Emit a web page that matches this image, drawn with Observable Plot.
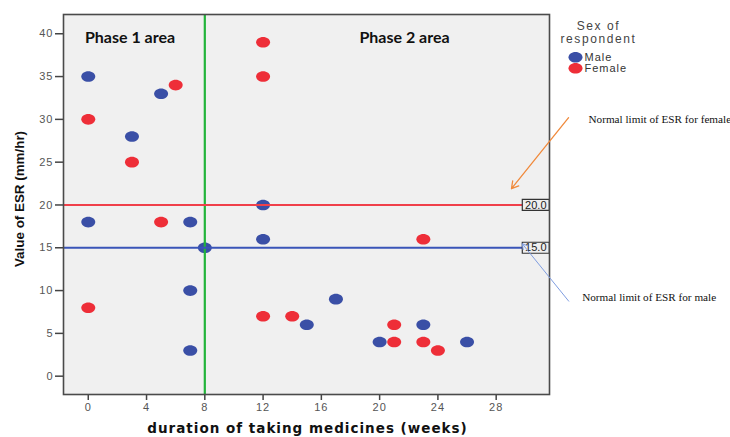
<!DOCTYPE html>
<html>
<head>
<meta charset="utf-8">
<script src="https://cdn.jsdelivr.net/npm/d3@7"></script>
<script src="https://cdn.jsdelivr.net/npm/@observablehq/plot@0.6"></script>
<style>
  body { margin: 0; background: white; }
</style>
</head>
<body>
<div id="chart"></div>
<script>
// ---- data ----
const maleWeeks   = [0, 0, 3, 5, 7, 7, 7, 8, 12, 12, 15, 17, 20, 23, 26];
const maleESR     = [35, 18, 28, 33, 18, 10, 3, 15, 20, 16, 6, 9, 4, 6, 4];
const femaleWeeks = [0, 0, 3, 5, 6, 12, 12, 12, 14, 21, 21, 23, 23, 24];
const femaleESR   = [30, 8, 25, 18, 34, 39, 35, 7, 7, 6, 4, 16, 4, 3];
const xTicks = [0, 4, 8, 12, 16, 20, 24, 28];
const yTicks = [0, 5, 10, 15, 20, 25, 30, 35, 40];
const phaseBoundary = 8;       // weeks
const femaleLimit = 20;        // mm/hr
const maleLimit = 15;          // mm/hr
const sexes = ["Male", "Female"];

// ---- build table ----
const points = [
  ...maleWeeks.map((w, i) => ({weeks: w, esr: maleESR[i], sex: "Male"})),
  ...femaleWeeks.map((w, i) => ({weeks: w, esr: femaleESR[i], sex: "Female"}))
];

const colors = {Male: "#3a4fa6", Female: "#ee2e38"};

const ellipse = {
  draw(ctx) {
    const rx = 7, ry = 5.3, k = 0.5523;
    ctx.moveTo(rx, 0);
    ctx.bezierCurveTo(rx, ry * k, rx * k, ry, 0, ry);
    ctx.bezierCurveTo(-rx * k, ry, -rx, ry * k, -rx, 0);
    ctx.bezierCurveTo(-rx, -ry * k, -rx * k, -ry, 0, -ry);
    ctx.bezierCurveTo(rx * k, -ry, rx, -ry * k, rx, 0);
    ctx.closePath();
  }
};
const box = {
  draw(ctx) {
    const w = 13.5, h = 5.5;
    ctx.rect(-w, -h, 2 * w, 2 * h);
  }
};

const xDomain = [-1.7, 31.66];
const yDomain = [-2.14, 42.25];
const sans = "Liberation Sans, Arial, sans-serif";
const serif = "Liberation Serif, Times New Roman, serif";
const legendRowDy = [42.7, 53.7];

const chart = Plot.plot({
  width: 730,
  height: 437,
  marginLeft: 63,
  marginRight: 181,
  marginTop: 14,
  marginBottom: 43,
  x: {domain: xDomain},
  y: {domain: yDomain},
  style: {background: "white", overflow: "visible"},
  marks: [
    Plot.frame({fill: "#f0f0f0", stroke: null}),
    Plot.axisY(yTicks, {tickSize: 8, tickPadding: 2, fontSize: 11, fontFamily: sans, fill: "#555", stroke: "#444", strokeWidth: 1.5, label: null}),
    Plot.axisX(xTicks, {tickSize: 6, tickPadding: 3, fontSize: 11, fontFamily: sans, fill: "#555", stroke: "#444", strokeWidth: 1.5, label: null}),
    Plot.dot(points, {x: "weeks", y: "esr", symbol: ellipse, fill: d => colors[d.sex], stroke: null}),
    Plot.ruleX([phaseBoundary], {stroke: "#22b43a", strokeWidth: 2.2}),
    Plot.ruleY([femaleLimit], {stroke: "#f0404a", strokeWidth: 2}),
    Plot.ruleY([maleLimit], {stroke: "#3a55b8", strokeWidth: 2}),
    // reference labels
    Plot.dot([femaleLimit, maleLimit], {y: d => d, frameAnchor: "right", dx: -13.7, symbol: box, fill: "#efefef", stroke: "#333", strokeWidth: 1.2}),
    Plot.text([femaleLimit, maleLimit], {y: d => d, frameAnchor: "right", dx: -13.7, text: d => d.toFixed(1), fontSize: 11, fontFamily: sans, fill: "#222", textAnchor: "middle", lineAnchor: "middle"}),
    // frame
    Plot.frame({stroke: "#4a4a4a", strokeWidth: 1.6}),
    // phase labels
    Plot.text(["Phase 1 area"], {frameAnchor: "top-left", dx: 66.5, dy: 23, textAnchor: "middle", lineAnchor: "middle", fontFamily: "Lato, sans-serif", fontWeight: "bold", fontSize: 16, fill: "#111"}),
    Plot.text(["Phase 2 area"], {frameAnchor: "top-left", dx: 341, dy: 23, textAnchor: "middle", lineAnchor: "middle", fontFamily: "Lato, sans-serif", fontWeight: "bold", fontSize: 16, fill: "#111"}),
    // axis titles
    Plot.text(["Value of ESR (mm/hr)"], {frameAnchor: "left", dx: -43.5, dy: -5.5, rotate: -90, textAnchor: "middle", lineAnchor: "middle", fontFamily: sans, fontWeight: "bold", fontSize: 13.4, fill: "#111"}),
    Plot.text(["duration of taking medicines (weeks)"], {frameAnchor: "bottom", dx: 1, dy: 34, textAnchor: "middle", lineAnchor: "middle", fontFamily: "DejaVu Sans, sans-serif", fontWeight: "bold", fontSize: 13.5, fill: "#111"}),
    // legend
    Plot.text(["Sex of"], {frameAnchor: "top-right", dx: 49, dy: 11.5, textAnchor: "middle", lineAnchor: "middle", fontFamily: sans, fontSize: 12, fill: "#444"}),
    Plot.text(["respondent"], {frameAnchor: "top-right", dx: 49, dy: 25, textAnchor: "middle", lineAnchor: "middle", fontFamily: sans, fontSize: 12, fill: "#444"}),
    ...sexes.map((s, i) => Plot.dot([s], {frameAnchor: "top-right", dx: 26, dy: legendRowDy[i], symbol: ellipse, fill: colors[s]})),
    ...sexes.map((s, i) => Plot.text([s], {frameAnchor: "top-right", dx: 35, dy: legendRowDy[i], textAnchor: "start", lineAnchor: "middle", fontFamily: sans, fontSize: 11, fill: "#333"})),
    // annotations
    Plot.arrow([0], {x1: 32.97, y1: 30.2, x2: 29.05, y2: 21.9, stroke: "#f08a3c", strokeWidth: 1.3, headLength: 9}),
    Plot.arrow([0], {x1: 32.98, y1: 8.76, x2: 29.79, y2: 15.47, stroke: "#7f9de0", strokeWidth: 1, headLength: 9}),
    Plot.text(["Normal limit of ESR for female"], {frameAnchor: "top-right", dx: 39, dy: 105, textAnchor: "start", lineAnchor: "middle", fontFamily: serif, fontSize: 11.2, fill: "#111"}),
    Plot.text(["Normal limit of ESR for male"], {frameAnchor: "top-right", dx: 32.7, dy: 283, textAnchor: "start", lineAnchor: "middle", fontFamily: serif, fontSize: 11.2, fill: "#111"})
  ]
});

// letter spacing for the wide SPSS-style labels
const spacing = new Map([
  ["Sex of", "1.6px"], ["respondent", "1.6px"], ["Male", "1px"], ["Female", "1px"],
  ["duration of taking medicines (weeks)", "1px"]
]);
d3.select(chart).selectAll("text").each(function() {
  const t = this.textContent;
  if (spacing.has(t)) this.style.letterSpacing = spacing.get(t);
  else if (/^\d+$/.test(t)) this.style.letterSpacing = "1px";
});
document.getElementById("chart").append(chart);
</script>
</body>
</html>
